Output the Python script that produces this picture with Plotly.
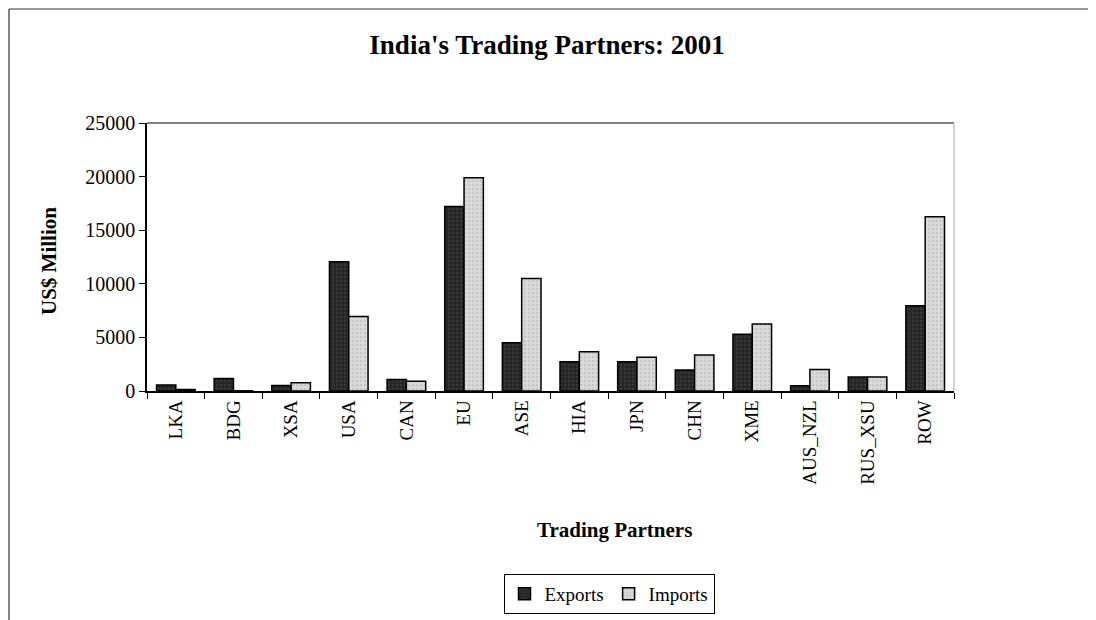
import plotly.graph_objects as go

partners = ["LKA", "BDG", "XSA", "USA", "CAN", "EU", "ASE", "HIA", "JPN", "CHN",
            "XME", "AUS_NZL", "RUS_XSU", "ROW"]
exports = [560, 1170, 520, 12050, 1080, 17200, 4500, 2740, 2740, 1960, 5300, 480, 1300, 7950]
imports = [150, 20, 780, 6950, 900, 19900, 10500, 3670, 3140, 3360, 6250, 2000, 1300, 16250]
y_ticks = [0, 5000, 10000, 15000, 20000, 25000]

W, H = 1096, 620
L, R, T, B = 139, 946, 115, 383
PW, PH = R - L, B - T

def px(x):
    return (x - L) / PW

def py(y):
    return (B - y) / PH

FONT = "Liberation Serif, Times New Roman, serif"

fig = go.Figure()
fig.add_trace(go.Bar(
    name="Exports", x=partners, y=exports,
    marker=dict(color="#2a2a2a", line=dict(color="black", width=1.5),
                pattern=dict(shape=".", fgcolor="#4a4a4a", bgcolor="#262626", size=4, solidity=0.3)),
))
fig.add_trace(go.Bar(
    name="Imports", x=partners, y=imports,
    marker=dict(color="#d2d2d2", line=dict(color="black", width=1.5),
                pattern=dict(shape=".", fgcolor="#b0b0b0", bgcolor="#dadada", size=4, solidity=0.3)),
))

fig.update_layout(
    width=W, height=H,
    margin=dict(l=L, r=W - R, t=T, b=H - B),
    paper_bgcolor="white", plot_bgcolor="white",
    barmode="group", bargap=0.33, bargroupgap=0,
    font=dict(family=FONT, size=19, color="black"),
    title=dict(text="<b>India's Trading Partners: 2001</b>", x=539 / W, xref="container",
               y=1 - 37 / H, yref="container", yanchor="middle", xanchor="center",
               font=dict(family=FONT, size=27, color="black")),
    showlegend=True,
    legend=dict(orientation="h", x=px(601), xanchor="center", y=py(586), yanchor="middle",
                bordercolor="black", borderwidth=1, bgcolor="white",
                font=dict(family=FONT, size=19), itemwidth=30, traceorder="normal",
                tracegroupgap=0),
    xaxis=dict(showline=True, linecolor="black", linewidth=1.5, ticks="outside",
               tickson="boundaries", ticklen=6, tickcolor="black", tickangle=-90,
               tickfont=dict(family=FONT, size=19), showgrid=False, zeroline=False),
    yaxis=dict(range=[0, 25000], tickvals=y_ticks, ticktext=[str(v) for v in y_ticks],
               showline=True, linecolor="black", linewidth=1.5, ticks="outside", ticklen=6,
               tickcolor="black", tickfont=dict(family=FONT, size=20), showgrid=False,
               zeroline=False),
    shapes=[
        dict(type="line", xref="paper", yref="paper", x0=0, x1=1, y0=1, y1=1,
             line=dict(color="#555555", width=1.5)),
        dict(type="line", xref="paper", yref="paper", x0=1, x1=1, y0=0, y1=1,
             line=dict(color="#aaaaaa", width=1)),
        dict(type="line", xref="paper", yref="paper", x0=px(1), x1=px(1), y0=py(1), y1=py(620),
             line=dict(color="#333333", width=1.2)),
        dict(type="line", xref="paper", yref="paper", x0=px(1), x1=px(1096), y0=py(1), y1=py(1),
             line=dict(color="#333333", width=1.2)),
    ],
    annotations=[
        dict(text="<b>US$ Million</b>", xref="paper", yref="paper", x=px(41), y=py(253),
             textangle=-90, showarrow=False, font=dict(family=FONT, size=21),
             xanchor="center", yanchor="middle"),
        dict(text="<b>Trading Partners</b>", xref="paper", yref="paper", x=px(606), y=py(522),
             showarrow=False, font=dict(family=FONT, size=21), xanchor="center", yanchor="middle"),
    ],
)

fig.write_html("out.html")
